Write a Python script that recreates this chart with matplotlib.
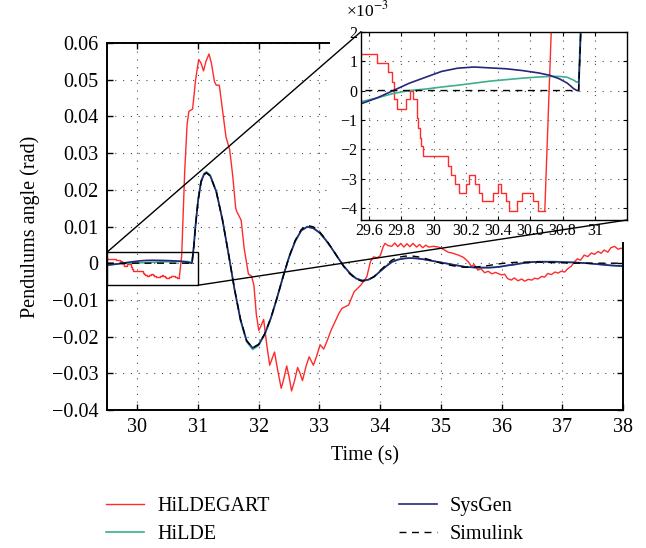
import matplotlib
matplotlib.use('Agg')
import matplotlib.pyplot as plt
from matplotlib.patches import Rectangle, ConnectionPatch
from matplotlib.ticker import FuncFormatter, MultipleLocator

plt.rcParams['font.family'] = ['Liberation Serif', 'DejaVu Serif']
plt.rcParams['mathtext.fontset'] = 'stix'

# ---------------- data ----------------
labels = ['HiLDEGART', 'HiLDE', 'SysGen', 'Simulink']
main_xticks = [30, 31, 32, 33, 34, 35, 36, 37, 38]
main_yticks = [-0.04, -0.03, -0.02, -0.01, 0.0, 0.01, 0.02, 0.03, 0.04, 0.05, 0.06]
inset_xticks = [29.6, 29.8, 30.0, 30.2, 30.4, 30.6, 30.8, 31.0]
inset_yticks = [-0.004, -0.003, -0.002, -0.001, 0.0, 0.001, 0.002]

# HiLDEGART: quantised (stair) part before the swing, in rad
hildegart_step_t = [29.50, 29.648, 29.72, 29.74, 29.755, 29.775, 29.83, 29.855, 29.875,
                    29.895, 29.90, 29.905, 29.915, 29.925, 29.935, 30.09, 30.11, 30.13,
                    30.16, 30.20, 30.22, 30.26, 30.28, 30.30, 30.37, 30.40, 30.42, 30.45,
                    30.47, 30.52, 30.55, 30.62, 30.65, 30.69]
hildegart_step_v = [0.00125, 0.00095, 0.00062, 0.00030, -0.00030, -0.00064, -0.00030, 0.0,
                    -0.00030, -0.00064, -0.00095, -0.00127, -0.00160, -0.00190, -0.00223,
                    -0.00255, -0.00286, -0.00316, -0.00347, -0.00316, -0.00286, -0.00316,
                    -0.00347, -0.00377, -0.00347, -0.00316, -0.00347, -0.00377, -0.00410,
                    -0.00377, -0.00347, -0.00377, -0.00410, -0.00410]

# HiLDEGART: remaining part
hildegart_t = [30.69, 30.73, 30.78, 30.82, 30.85, 30.91, 30.96, 31.01, 31.05, 31.09, 31.13,
               31.18, 31.22, 31.27, 31.30, 31.35, 31.40, 31.46, 31.52, 31.57, 31.62, 31.64,
               31.71, 31.76, 31.83, 31.88, 31.92, 31.96, 32.00, 32.04, 32.08, 32.13, 32.18,
               32.22, 32.26, 32.31, 32.37, 32.42, 32.46, 32.50, 32.54, 32.59, 32.64, 32.68,
               32.72, 32.78, 32.83, 32.90, 32.96, 33.01, 33.07, 33.13, 33.19, 33.27, 33.32,
               33.37, 33.43, 33.48, 33.57, 33.63, 33.68, 33.78, 33.84, 33.89, 33.95, 34.00,
               34.05, 34.08, 34.13, 34.19, 34.24, 34.29, 34.34, 34.39, 34.44, 34.49, 34.54,
               34.60, 34.65, 34.70, 34.75, 34.80, 34.88, 34.96, 35.04, 35.12, 35.20, 35.29,
               35.37, 35.45, 35.50, 35.55, 35.61, 35.66, 35.72, 35.78, 35.84, 35.90, 35.94,
               36.00, 36.05, 36.10, 36.16, 36.21, 36.27, 36.33, 36.38, 36.44, 36.50, 36.54,
               36.60, 36.66, 36.71, 36.76, 36.82, 36.88, 36.93, 36.98, 37.04, 37.09, 37.15,
               37.20, 37.25, 37.30, 37.36, 37.42, 37.48, 37.53, 37.59, 37.64, 37.69, 37.75,
               37.80, 37.86, 37.92, 37.97, 38.00]
hildegart_v = [-0.0041, 0.0020, 0.0250, 0.0380, 0.0414, 0.0420, 0.0500, 0.0555, 0.0545,
               0.0524, 0.0550, 0.0570, 0.0545, 0.0495, 0.0485, 0.0485, 0.0420, 0.0344,
               0.0310, 0.0240, 0.0150, 0.0140, 0.0117, 0.0040, -0.0030, -0.0035, -0.0060,
               -0.0140, -0.0183, -0.0170, -0.0153, -0.0220, -0.0278, -0.0260, -0.0242,
               -0.0290, -0.0341, -0.0310, -0.0280, -0.0310, -0.0348, -0.0320, -0.0284,
               -0.0300, -0.0320, -0.0280, -0.0255, -0.0278, -0.0250, -0.0222, -0.0234,
               -0.0210, -0.0183, -0.0155, -0.0137, -0.0123, -0.0118, -0.0114, -0.0078,
               -0.0068, -0.0060, -0.0037, 0.0005, 0.0017, 0.0015, 0.0020, 0.0045, 0.0054,
               0.0048, 0.0046, 0.0055, 0.0045, 0.0054, 0.0044, 0.0053, 0.0045, 0.0054,
               0.0044, 0.0051, 0.0042, 0.0049, 0.0044, 0.0046, 0.0044, 0.0038, 0.0030,
               0.0027, 0.0022, 0.0016, 0.0004, -0.0008, -0.0004, -0.0019, -0.0015, -0.0026,
               -0.0022, -0.0029, -0.0025, -0.0028, -0.0032, -0.0030, -0.0042, -0.0046,
               -0.0040, -0.0048, -0.0043, -0.0049, -0.0044, -0.0046, -0.0041, -0.0043,
               -0.0036, -0.0038, -0.0028, -0.0031, -0.0024, -0.0027, -0.0022, -0.0024,
               -0.0015, -0.0008, 0.0004, 0.0012, 0.0008, 0.0022, 0.0018, 0.0028, 0.0024,
               0.0032, 0.0027, 0.0036, 0.0030, 0.0042, 0.0046, 0.0038, 0.0041, 0.0038]

# time base before the swing (SysGen / HiLDE / Simulink)
pre_t = [29.50, 29.55, 29.65, 29.75, 29.85, 29.95, 30.05, 30.15, 30.25, 30.35, 30.45,
         30.55, 30.65, 30.72, 30.78, 30.83, 30.87, 30.89]
sysgen_pre = [-0.00050, -0.00045, -0.00025, 0.0, 0.00025, 0.00045, 0.00065, 0.00076,
              0.00080, 0.00077, 0.00074, 0.00068, 0.00060, 0.00052, 0.00040, 0.00025,
              0.00006, 0.0]
hilde_pre = [-0.00042, -0.00038, -0.00025, -0.00010, 0.0, 0.00005, 0.00012, 0.00018,
             0.00025, 0.00032, 0.00037, 0.00042, 0.00046, 0.00048, 0.00048, 0.00045,
             0.00035, 0.00028]
simulink_pre = [0.0, 0.0, 0.0, 0.0, 0.0, 0.0, 0.0, 0.0, 0.0, 0.0, 0.0, 0.0, 0.0, 0.0, 0.0,
                0.0, 0.0, 0.0]

# time base of the swing
osc_t = [30.90, 30.93, 30.96, 31.00, 31.05, 31.10, 31.14, 31.20, 31.30, 31.40, 31.50,
         31.60, 31.70, 31.80, 31.90, 32.00, 32.10, 32.20, 32.30, 32.40, 32.50, 32.60,
         32.70, 32.80, 32.90, 33.00, 33.10, 33.20, 33.30, 33.40, 33.50, 33.60, 33.70,
         33.80, 33.90, 34.00, 34.10, 34.20, 34.30, 34.40, 34.50, 34.60, 34.70, 34.80,
         34.90, 35.00, 35.10, 35.20, 35.30, 35.40, 35.50, 35.60, 35.70, 35.80, 35.90,
         36.00, 36.10, 36.20, 36.30, 36.40, 36.50, 36.60, 36.70, 36.80, 36.90, 37.00,
         37.20, 37.40, 37.60, 37.80, 38.00]
sysgen_osc = [0.0000, 0.0045, 0.0105, 0.0170, 0.0222, 0.0242, 0.0246, 0.0238, 0.0195,
              0.0120, 0.0027, -0.0070, -0.0154, -0.0211, -0.0231, -0.0221, -0.0192,
              -0.0149, -0.0095, -0.0037, 0.0017, 0.0060, 0.0089, 0.0099, 0.0095, 0.0083,
              0.0064, 0.0041, 0.0016, -0.0008, -0.0027, -0.0041, -0.0047, -0.0045,
              -0.0037, -0.0022, -0.0008, 0.0004, 0.0010, 0.0013, 0.0014, 0.0013, 0.0011,
              0.0008, 0.0005, 0.0002, -0.0001, -0.0004, -0.0007, -0.0010, -0.0011,
              -0.0012, -0.0012, -0.0012, -0.0011, -0.0009, -0.0006, -0.0004, -0.0001,
              0.0001, 0.0003, 0.0004, 0.0004, 0.0004, 0.0004, 0.0003, 0.0002, 0.0000,
              -0.0003, -0.0006, -0.0008]
hilde_osc = [0.0003, 0.0048, 0.0108, 0.0173, 0.0225, 0.0245, 0.0249, 0.0240, 0.0196,
             0.0120, 0.0026, -0.0072, -0.0157, -0.0214, -0.0235, -0.0224, -0.0194,
             -0.0150, -0.0095, -0.0037, 0.0017, 0.0060, 0.0089, 0.0100, 0.0096, 0.0084,
             0.0064, 0.0041, 0.0016, -0.0008, -0.0027, -0.0042, -0.0048, -0.0046,
             -0.0037, -0.0022, -0.0008, 0.0004, 0.0010, 0.0013, 0.0014, 0.0013, 0.0011,
             0.0008, 0.0005, 0.0002, -0.0001, -0.0004, -0.0007, -0.0010, -0.0011,
             -0.0012, -0.0012, -0.0012, -0.0011, -0.0009, -0.0006, -0.0004, -0.0001,
             0.0001, 0.0003, 0.0004, 0.0004, 0.0004, 0.0004, 0.0003, 0.0002, 0.0000,
             -0.0003, -0.0006, -0.0008]
simulink_osc = [0.0000, 0.0045, 0.0105, 0.0170, 0.0222, 0.0242, 0.0246, 0.0238, 0.0195,
                0.0120, 0.0027, -0.0070, -0.0154, -0.0211, -0.0231, -0.0221, -0.0192,
                -0.0149, -0.0095, -0.0037, 0.0018, 0.0062, 0.0092, 0.0103, 0.0099, 0.0086,
                0.0066, 0.0042, 0.0016, -0.0009, -0.0029, -0.0043, -0.0049, -0.0046,
                -0.0036, -0.0020, -0.0004, 0.0009, 0.0016, 0.0019, 0.0020, 0.0018, 0.0015,
                0.0010, 0.0005, 0.0000, -0.0004, -0.0007, -0.0010, -0.0011, -0.0011,
                -0.0010, -0.0008, -0.0006, -0.0003, -0.0001, 0.0001, 0.0002, 0.0003,
                0.0003, 0.0003, 0.0003, 0.0002, 0.0002, 0.0001, 0.0001, 0.0000, 0.0000,
                0.0000, 0.0000, 0.0000]

# ---------------- styles ----------------
C_RED = '#ff2a2a'
C_TEAL = '#3dae8e'
C_NAVY = '#26267a'
C_BLACK = '#000000'
GRID_KW = dict(color='0.3', linestyle=(0, (1, 6)), linewidth=0.8)

W, H = 646, 548
fig = plt.figure(figsize=(W / 100, H / 100), dpi=100)

def fig_rect(x0, y0, x1, y1):
    return [x0 / W, 1 - y1 / H, (x1 - x0) / W, (y1 - y0) / H]

ax = fig.add_axes(fig_rect(107, 43, 623, 410))
ax.set_zorder(0)

def draw_series(a):
    a.plot(hildegart_step_t, hildegart_step_v, color=C_RED, lw=1.0, drawstyle='steps-post')
    l_red, = a.plot(hildegart_t, hildegart_v, color=C_RED, lw=1.0)
    l_teal, = a.plot(pre_t + osc_t, hilde_pre + hilde_osc, color=C_TEAL, lw=1.2)
    l_navy, = a.plot(pre_t + osc_t, sysgen_pre + sysgen_osc, color=C_NAVY, lw=1.2)
    l_sim, = a.plot(pre_t + osc_t, simulink_pre + simulink_osc, color=C_BLACK, lw=1.0,
                    dashes=(5, 4))
    return [l_red, l_teal, l_navy, l_sim]

handles = draw_series(ax)
ax.set_xlim(29.5, 38)
ax.set_ylim(-0.04, 0.06)
ax.set_xticks(main_xticks)
ax.set_yticks(main_yticks)

def main_fmt(v, _):
    if abs(v) < 1e-12:
        return '0'
    return f'{v:.2f}'.replace('-', '\u2212')

ax.yaxis.set_major_formatter(FuncFormatter(main_fmt))
ax.xaxis.set_major_formatter(FuncFormatter(lambda v, _: f'{v:g}'))
ax.grid(True, **GRID_KW)
ax.tick_params(direction='in', top=True, right=True, length=4, width=1.0,
               labelsize=14.5, pad=6)
for s in ax.spines.values():
    s.set_linewidth(1.4)
ax.set_xlabel('Time (s)', fontsize=14.5)
ax.set_ylabel('Pendulums angle (rad)', fontsize=14.5)
ax.xaxis.set_label_coords(0.5, -0.1)
ax.yaxis.set_label_coords(-0.13, 0.5)

# zoom rectangle
ax.add_patch(Rectangle((29.5, -0.006), 1.5, 0.009, fill=False, ec='k', lw=1.0, zorder=4,
                       clip_on=False))

# white mask behind inset and its labels
mask = fig.add_axes(fig_rect(330, 0, 646, 242))
mask.set_zorder(1)
mask.set_facecolor('white')
mask.set_xticks([])
mask.set_yticks([])
for s in mask.spines.values():
    s.set_visible(False)

# inset
axins = fig.add_axes(fig_rect(361, 31.7, 627, 220))
axins.set_zorder(2)
draw_series(axins)
axins.set_xlim(29.55, 31.2)
axins.set_ylim(-0.0044, 0.002)
axins.set_xticks(inset_xticks)
axins.set_yticks(inset_yticks)
axins.xaxis.set_major_formatter(FuncFormatter(lambda v, _: f'{v:g}'))
axins.yaxis.set_major_formatter(
    FuncFormatter(lambda v, _: f'{int(round(v * 1e3))}'.replace('-', '\u2212')))
axins.grid(True, **GRID_KW)
axins.tick_params(direction='in', top=True, right=True, length=3, width=0.8,
                  labelsize=11.5, pad=2.5)
for s in axins.spines.values():
    s.set_linewidth(1.0)
fig.text(346 / W, 1 - 20 / H, '\u00d710$^{\u22123}$', fontsize=12.5, ha='left',
         va='bottom')

# connection lines
for xyA, xyB in [((29.5, 0.003), (0, 1)), ((31.0, -0.006), (1, 0))]:
    con = ConnectionPatch(xyA=xyA, coordsA=ax.transData, xyB=xyB, coordsB=axins.transAxes,
                          color='k', lw=1.0, zorder=5)
    fig.add_artist(con)

# legend
ax.legend(handles, labels, ncol=2, frameon=False, loc='upper left',
          bbox_to_anchor=(106 / W, 1 - 497 / H), bbox_transform=fig.transFigure,
          borderaxespad=0, borderpad=0, fontsize=14.5, handlelength=1.9,
          handletextpad=0.65, columnspacing=6.4, labelspacing=0.42)

fig.savefig('out.png', dpi=100)
